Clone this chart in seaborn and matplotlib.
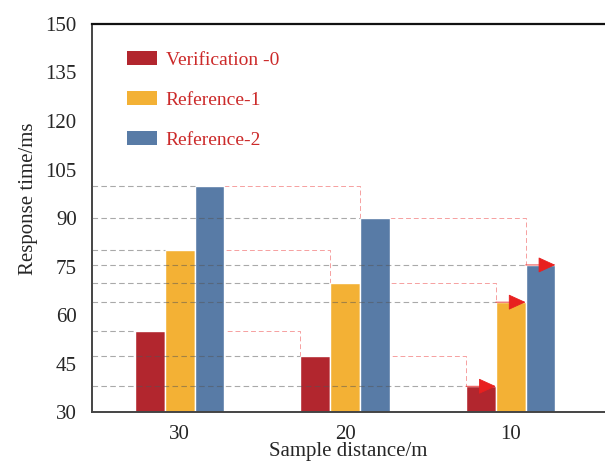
import numpy as np
import pandas as pd
import seaborn as sns
import matplotlib.pyplot as plt
from matplotlib.patches import Patch

distances = ["30", "20", "10"]
series = ["Verification -0", "Reference-1", "Reference-2"]
verification_0 = [55, 47.5, 38]
reference_1 = [80, 70, 64]
reference_2 = [100, 90, 75.5]
y_ticks = [30, 45, 60, 75, 90, 105, 120, 135, 150]

colors = ["#b2262e", "#f3b135", "#587ba6"]

data = pd.DataFrame({
    "distance": distances * 3,
    "time": verification_0 + reference_1 + reference_2,
    "series": np.repeat(series, len(distances)),
})

sns.set_style("white")
plt.rcParams["font.family"] = ["Liberation Serif", "DejaVu Serif"]

fig = plt.figure(figsize=(6.05, 4.61), dpi=100)
ax = fig.add_axes([0.152, 0.106, 0.848, 0.842])

sns.barplot(data, x="distance", y="time", hue="series", order=distances,
            hue_order=series, palette=colors, width=0.54, saturation=1,
            legend=False, ax=ax, zorder=2)

ax.set_xlim(-0.53, 2.57)
ax.set_ylim(30, 150)
ax.set_yticks(y_ticks)
x0 = ax.get_xlim()[0]

# grey guide lines from the y axis to each bar top
for cont in ax.containers:
    for bar in cont.patches:
        ax.hlines(bar.get_height(), x0, bar.get_x(), colors="#555555",
                  linestyles=(0, (5, 3)), lw=0.8, alpha=0.5, zorder=3)

# red step connectors between groups
for cont in ax.containers:
    bars = cont.patches
    for k in range(len(bars) - 1):
        b0, b1 = bars[k], bars[k + 1]
        h0, h1 = b0.get_height(), b1.get_height()
        xs = [b0.get_x() + b0.get_width(), b1.get_x(), b1.get_x()]
        ys = [h0, h0, h1]
        ax.plot(xs, ys, color="#f06060", lw=0.7, ls=(0, (5, 3)), alpha=0.6, zorder=1)
    last = bars[-1]
    ax.annotate("", xy=(last.get_x() + last.get_width(), last.get_height()),
                xytext=(last.get_x(), last.get_height()),
                arrowprops=dict(arrowstyle="-|>,head_length=1.1,head_width=0.5",
                                color="#e8201f", lw=0.6, shrinkA=0, shrinkB=0),
                zorder=4)

handles = [Patch(facecolor=c, edgecolor="none") for c in colors]
ax.legend(handles=handles, labels=series, loc="upper left", bbox_to_anchor=(0.068, 0.93),
          frameon=False, fontsize=14, labelcolor="#cc2a2a", labelspacing=1.15,
          handlelength=1.55, handleheight=0.7, handletextpad=0.45,
          borderpad=0, borderaxespad=0)

ax.set_xlabel("Sample distance/m", fontsize=15, labelpad=-1)
ax.set_ylabel("Response time/ms", fontsize=15)
ax.yaxis.set_label_coords(-0.105, 0.55)
ax.tick_params(axis="y", direction="in", length=7, width=1.2, labelsize=15, pad=11)
ax.tick_params(axis="x", length=0, labelsize=15, pad=9)

ax.spines["right"].set_visible(False)
ax.spines["top"].set_color("#111111")
ax.spines["top"].set_linewidth(1.6)
for s in ["left", "bottom"]:
    ax.spines[s].set_color("#444444")
    ax.spines[s].set_linewidth(1.4)

fig.savefig("out.png", dpi=100)
